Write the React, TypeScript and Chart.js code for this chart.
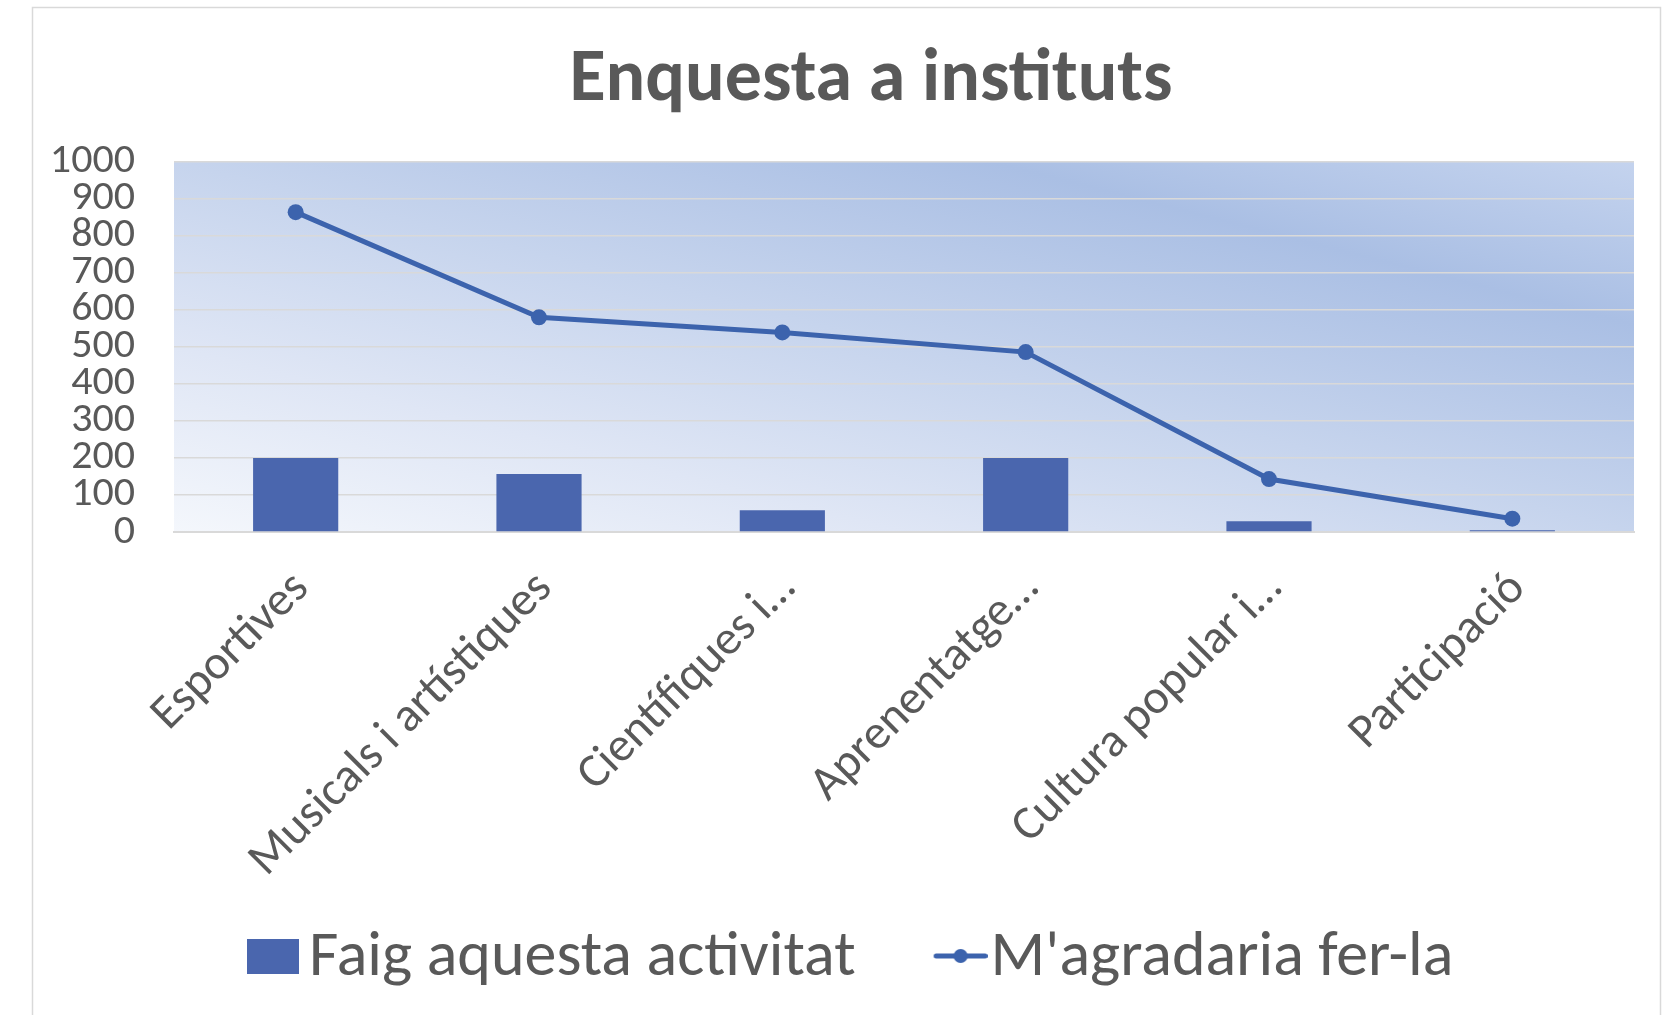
import React, { useEffect, useRef } from "react";
import { Chart, registerables } from "chart.js";

Chart.register(...registerables);

// ---- data ----
const chartTitle = "Enquesta a instituts";
const categories = [
  "Esportives",
  "Musicals i artístiques",
  "Científiques i…",
  "Aprenentatge…",
  "Cultura popular i…",
  "Participació",
];
const seriesNames = ["Faig aquesta activitat", "M'agradaria fer-la"];
const doActivity = [200, 157, 59, 200, 29, 5];
const wouldLike = [864, 580, 539, 486, 143, 36];
const yMin = 0;
const yMax = 1000;
const yStep = 100;

// ---- style ----
const W = 1671;
const H = 1015;
const FONT = "Calibri, Carlito, Lato, sans-serif";
const TEXT = "#595959";
const BAR_COLOR = "#4a66ae";
const LINE_COLOR = "#3c63ad";
const GRID = "#d9d9d9";

function makeBarIcon(): HTMLCanvasElement {
  const c = document.createElement("canvas");
  c.width = 137;
  c.height = 40;
  const x = c.getContext("2d")!;
  x.fillStyle = BAR_COLOR;
  x.fillRect(85, 0, 52, 35);
  return c;
}

function makeLineIcon(): HTMLCanvasElement {
  const c = document.createElement("canvas");
  c.width = 151;
  c.height = 26;
  const x = c.getContext("2d")!;
  x.strokeStyle = LINE_COLOR;
  x.lineWidth = 5;
  x.lineCap = "round";
  x.beginPath();
  x.moveTo(99.5, 10);
  x.lineTo(148.5, 10);
  x.stroke();
  x.fillStyle = LINE_COLOR;
  x.beginPath();
  x.arc(124, 10, 7, 0, Math.PI * 2);
  x.fill();
  return c;
}

const backgroundPlugin = {
  id: "sheetBackground",
  beforeDraw(chart: any) {
    const { ctx, chartArea: a, width, height } = chart;
    ctx.save();
    ctx.fillStyle = "#ffffff";
    ctx.fillRect(0, 0, width, height);
    ctx.strokeStyle = GRID;
    ctx.lineWidth = 1.5;
    ctx.strokeRect(32.5, 7.5, 1628, height + 20);
    ctx.restore();

    ctx.save();
    ctx.translate(a.left, a.top);
    ctx.scale(a.right - a.left, a.bottom - a.top);
    const g = ctx.createLinearGradient(0, 1, 1, 0);
    g.addColorStop(0, "#f4f7fc");
    g.addColorStop(0.25, "#dfe6f5");
    g.addColorStop(0.5, "#c6d4ed");
    g.addColorStop(0.78, "#aabfe4");
    g.addColorStop(1, "#c4d3ee");
    ctx.fillStyle = g;
    ctx.fillRect(0, 0, 1, 1);
    ctx.restore();
  },
};

export default function App() {
  const ref = useRef<HTMLCanvasElement | null>(null);

  useEffect(() => {
    document.body.style.margin = "0";
    const canvas = ref.current;
    if (!canvas) return;
    const barIcon = makeBarIcon();
    const lineIcon = makeLineIcon();

    const chart = new Chart(canvas, {
      type: "bar",
      data: {
        labels: categories,
        datasets: [
          {
            type: "bar",
            label: seriesNames[0],
            data: doActivity,
            backgroundColor: BAR_COLOR,
            borderWidth: 0,
            barPercentage: 0.35,
            categoryPercentage: 1,
            order: 2,
          } as any,
          {
            type: "line",
            label: seriesNames[1],
            data: wouldLike,
            borderColor: LINE_COLOR,
            backgroundColor: LINE_COLOR,
            borderWidth: 5,
            pointRadius: 8,
            pointBackgroundColor: LINE_COLOR,
            pointBorderWidth: 0,
            pointStyle: "circle",
            tension: 0,
            fill: false,
            order: 1,
          } as any,
        ],
      },
      options: {
        responsive: false,
        animation: false,
        devicePixelRatio: 1,
        layout: { padding: { left: 40, right: -31, top: 0, bottom: 14 } },
        plugins: {
          tooltip: { enabled: false },
          title: {
            display: true,
            text: chartTitle,
            color: TEXT,
            font: { family: FONT, size: 74, weight: "bold" },
            padding: { top: 37, bottom: 36 },
          },
          legend: {
            display: true,
            position: "bottom",
            align: "start",
            fullSize: false,
            labels: {
              usePointStyle: true,
              pointStyleWidth: 93,
              padding: 10,
              color: TEXT,
              font: { family: FONT, size: 64 },
              generateLabels(ch: any) {
                const items = Chart.defaults.plugins.legend.labels.generateLabels(ch);
                items.sort((p: any, q: any) => p.datasetIndex - q.datasetIndex);
                return items.map((it: any) => ({
                  ...it,
                  pointStyle: it.datasetIndex === 0 ? barIcon : lineIcon,
                  fontColor: TEXT,
                }));
              },
            },
          },
        },
        scales: {
          x: {
            grid: { display: false, drawTicks: false },
            border: { display: true, color: GRID, width: 2 },
            ticks: {
              color: TEXT,
              font: { family: FONT, size: 48 },
              maxRotation: 45,
              minRotation: 45,
              autoSkip: false,
              padding: 29,
              labelOffset: 6,
            },
            afterFit(scale: any) {
              scale.height = 385;
            },
          },
          y: {
            min: yMin,
            max: yMax,
            grid: { color: GRID, lineWidth: 1.5, drawTicks: false },
            border: { display: false },
            ticks: {
              stepSize: yStep,
              autoSkip: false,
              color: TEXT,
              font: { family: FONT, size: 42 },
              padding: 39,
              callback: (value: any) => String(value),
            },
            afterFit(scale: any) {
              scale.width = 134;
            },
          },
          yRight: {
            type: "linear",
            position: "right",
            display: true,
            grid: { display: false, drawTicks: false },
            border: { display: false },
            ticks: { display: false },
            afterFit(scale: any) {
              scale.width = 68;
            },
          },
        },
      },
      plugins: [backgroundPlugin],
    });

    return () => chart.destroy();
  }, []);

  return (
    <div style={{ width: W, height: H, position: "relative", overflow: "hidden" }}>
      <canvas ref={ref} width={W} height={H} style={{ display: "block", width: W, height: H }} />
    </div>
  );
}
